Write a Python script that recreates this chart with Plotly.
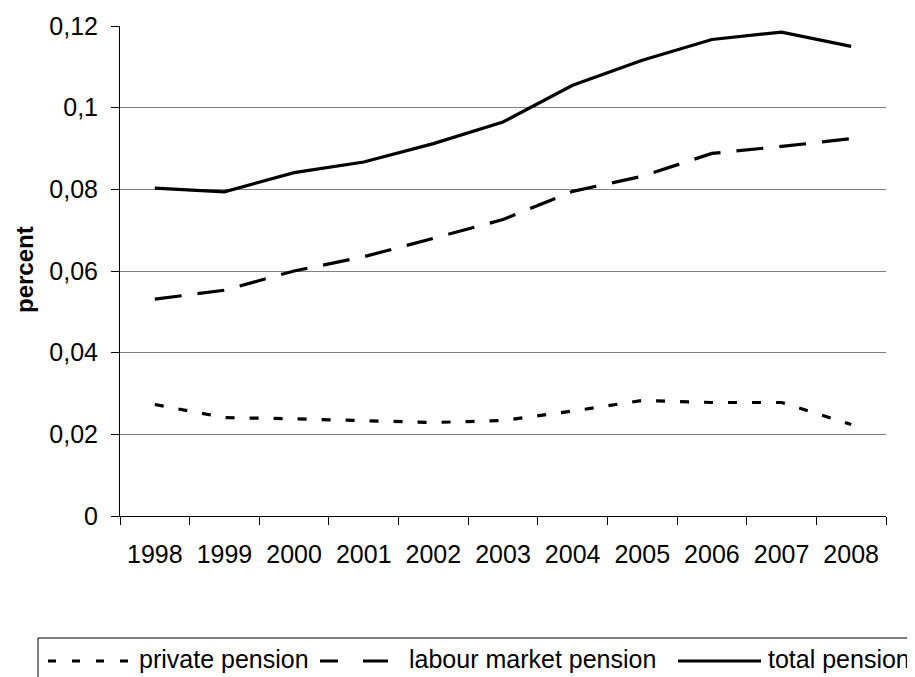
import plotly.graph_objects as go

years = ["1998", "1999", "2000", "2001", "2002", "2003", "2004", "2005", "2006", "2007", "2008"]
private_pension = [0.0273, 0.0241, 0.0238, 0.0234, 0.0229, 0.0234, 0.0257, 0.0283, 0.0278, 0.0278, 0.0224]
labour_market_pension = [0.0531, 0.0553, 0.0600, 0.0635, 0.0680, 0.0726, 0.0795, 0.0832, 0.0888, 0.0905, 0.0924]
total_pension = [0.0803, 0.0794, 0.0841, 0.0867, 0.0912, 0.0965, 0.1055, 0.1116, 0.1167, 0.1185, 0.1150]
y_tickvals = [0, 0.02, 0.04, 0.06, 0.08, 0.1, 0.12]
y_ticktext = ["0", "0,02", "0,04", "0,06", "0,08", "0,1", "0,12"]
series_names = ["private pension", "labour market pension", "total pension"]
y_title = "percent"

# page body has an 8px margin; the figure is sized so it ends at the window edge
OFF = 8
W, H = 915 - OFF, 677 - OFF
L, R, T, B = 120 - OFF, 29, 26 - OFF, 161
PW = W - L - R
PH = H - T - B
FONT = "Arial, Liberation Sans, sans-serif"

def px(x):
    # x given in window pixels
    return (x - OFF - L) / PW

def py(y):
    # y given in window pixels
    return (H - B - (y - OFF)) / PH

fig = go.Figure()
fig.add_trace(go.Scatter(x=years, y=private_pension, mode="lines", name=series_names[0],
                         line=dict(color="black", width=3.2, dash="9px,15px"), showlegend=False))
fig.add_trace(go.Scatter(x=years, y=labour_market_pension, mode="lines", name=series_names[1],
                         line=dict(color="black", width=3.2, dash="27px,16px"), showlegend=False))
fig.add_trace(go.Scatter(x=years, y=total_pension, mode="lines", name=series_names[2],
                         line=dict(color="black", width=3.2), showlegend=False))

shapes = []
# legend box
shapes.append(dict(type="rect", xref="paper", yref="paper", x0=px(38), x1=px(930), y0=py(638), y1=py(700),
                   line=dict(color="black", width=1), fillcolor="rgba(0,0,0,0)"))
ly = 661
shapes.append(dict(type="line", xref="paper", yref="paper", x0=px(48), x1=px(129), y0=py(ly), y1=py(ly),
                   line=dict(color="black", width=3.2, dash="8px,16px")))
shapes.append(dict(type="line", xref="paper", yref="paper", x0=px(320), x1=px(388), y0=py(ly), y1=py(ly),
                   line=dict(color="black", width=3.2, dash="18px,25px,25px,10px")))
shapes.append(dict(type="line", xref="paper", yref="paper", x0=px(678), x1=px(761), y0=py(ly), y1=py(ly),
                   line=dict(color="black", width=3.2)))

annotations = []
for name, xpos in zip(series_names, [137, 407, 766]):
    annotations.append(dict(text=name, xref="paper", yref="paper", x=px(xpos), y=py(659),
                            xanchor="left", yanchor="middle", showarrow=False,
                            font=dict(family=FONT, size=25, color="black")))
annotations.append(dict(text="<b>" + y_title + "</b>", xref="paper", yref="paper", x=px(24), y=py(270),
                        xanchor="center", yanchor="middle", textangle=-90, showarrow=False,
                        font=dict(family=FONT, size=24, color="black")))

fig.update_layout(
    width=W, height=H,
    margin=dict(l=L, r=R, t=T, b=B, autoexpand=False),
    paper_bgcolor="white", plot_bgcolor="white",
    font=dict(family=FONT, size=25, color="black"),
    shapes=shapes, annotations=annotations,
    showlegend=False,
)
fig.update_xaxes(
    type="category", range=[-0.5, 10.5], automargin=False,
    showline=True, linecolor="black", linewidth=1,
    ticks="outside", tickson="boundaries", ticklen=8, tickcolor="black", tickwidth=1,
    showgrid=False, zeroline=False,
    tickfont=dict(family=FONT, size=25, color="black"),
    ticklabelstandoff=16,
)
fig.update_yaxes(
    range=[0, 0.12], tickvals=y_tickvals, ticktext=y_ticktext, automargin=False,
    showline=True, linecolor="black", linewidth=1,
    ticks="outside", ticklen=8, tickcolor="black", tickwidth=1,
    showgrid=True, gridcolor="#808080", gridwidth=1, zeroline=False,
    tickfont=dict(family=FONT, size=25, color="black"),
    ticklabelstandoff=8,
)

fig.write_html("out.html")
